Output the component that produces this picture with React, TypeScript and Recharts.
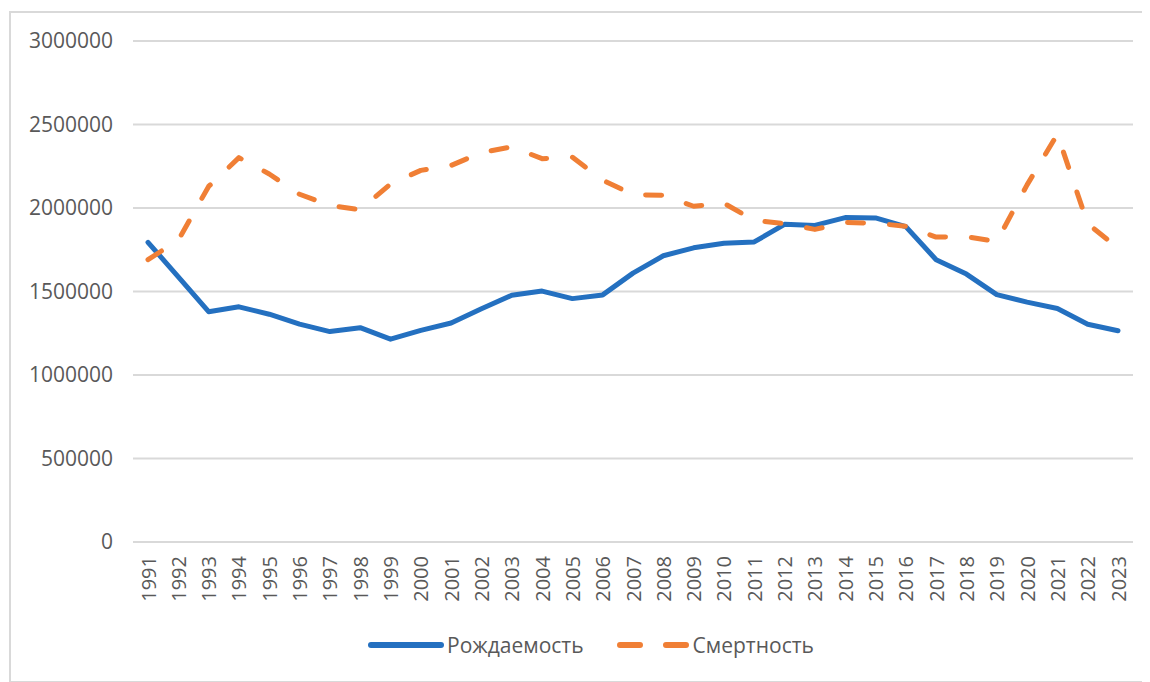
import React from "react";
import { LineChart, Line, XAxis, YAxis, CartesianGrid, Legend } from "recharts";

const years = [
  "1991", "1992", "1993", "1994", "1995", "1996", "1997", "1998", "1999", "2000",
  "2001", "2002", "2003", "2004", "2005", "2006", "2007", "2008", "2009", "2010",
  "2011", "2012", "2013", "2014", "2015", "2016", "2017", "2018", "2019", "2020",
  "2021", "2022", "2023",
];

const births = [
  1794626, 1587644, 1378983, 1408159, 1363806, 1304638, 1259943, 1283292, 1214689, 1266800,
  1311604, 1396967, 1477301, 1502477, 1457376, 1479637, 1610122, 1713947, 1761687, 1788948,
  1796629, 1902084, 1895822, 1942683, 1940579, 1888729, 1690307, 1604344, 1481074, 1436514,
  1398253, 1304087, 1264938,
];

const deaths = [
  1690657, 1807441, 2129339, 2301366, 2203811, 2082249, 2015779, 1988744, 2144316, 2225332,
  2254856, 2332272, 2365826, 2295402, 2303935, 2166703, 2080445, 2075954, 2010543, 2028516,
  1925720, 1906335, 1871809, 1913613, 1908541, 1891015, 1826125, 1828910, 1798307, 2138586,
  2441594, 1905800, 1760000,
];

const yTicks = [0, 500000, 1000000, 1500000, 2000000, 2500000, 3000000];

const seriesNames = { births: "Рождаемость", deaths: "Смертность" };

const data = years.map((y, i) => ({ year: y, births: births[i], deaths: deaths[i] }));

const FONT = "'Open Sans', 'Noto Sans', sans-serif";
const TEXT = "#595959";
const BLUE = "#2470C0";
const ORANGE = "#F07F35";
const GRID = "#d9d9d9";

const YearTick = (props: any) => {
  const { x, y, payload } = props;
  const ty = y + 14;
  return (
    <text
      x={x}
      y={ty}
      transform={`rotate(-90 ${x} ${ty})`}
      textAnchor="end"
      dominantBaseline="central"
      fill={TEXT}
      fontSize={20}
      fontFamily={FONT}
    >
      {payload.value}
    </text>
  );
};

const LegendContent = () => (
  <div
    style={{
      display: "flex",
      justifyContent: "center",
      alignItems: "center",
      height: 30,
      paddingLeft: 26,
      fontFamily: FONT,
      fontSize: 21,
      color: TEXT,
    }}
  >
    <svg width={76} height={10} style={{ marginRight: 3 }}>
      <line x1={3} y1={5} x2={73} y2={5} stroke={BLUE} strokeWidth={6} strokeLinecap="round" />
    </svg>
    <span style={{ marginRight: 33 }}>{seriesNames.births}</span>
    <svg width={72} height={10} style={{ marginRight: 4 }}>
      <line
        x1={3}
        y1={5}
        x2={69}
        y2={5}
        stroke={ORANGE}
        strokeWidth={6}
        strokeLinecap="round"
        strokeDasharray="20 26"
      />
    </svg>
    <span>{seriesNames.deaths}</span>
  </div>
);

export default function App() {
  return (
    <div
      style={{
        marginLeft: 1,
        marginTop: 3,
        width: 1134,
        height: 668,
        border: `2px solid ${GRID}`,
        position: "relative",
        background: "#fff",
      }}
    >
      <LineChart
        width={1134}
        height={668}
        data={data}
        margin={{ top: 28, right: 12, bottom: 39, left: 0 }}
      >
        <CartesianGrid vertical={false} stroke={GRID} strokeWidth={2} />
        <XAxis
          dataKey="year"
          interval={0}
          height={70}
          padding={{ left: 15, right: 15 }}
          axisLine={{ stroke: GRID, strokeWidth: 2 }}
          tickLine={false}
          tickSize={0}
          tickMargin={0}
          tick={<YearTick />}
        />
        <YAxis
          width={122}
          domain={[0, 3000000]}
          ticks={yTicks}
          axisLine={false}
          tickLine={false}
          tickSize={0}
          tickMargin={20}
          tick={{ fill: TEXT, fontSize: 21, fontFamily: FONT }}
        />
        <Legend
          verticalAlign="bottom"
          content={<LegendContent />}
          wrapperStyle={{ top: 617, left: 0, width: 1134, height: 30 }}
        />
        <Line
          type="linear"
          dataKey="births"
          name={seriesNames.births}
          stroke={BLUE}
          strokeWidth={5}
          strokeLinejoin="round"
          strokeLinecap="round"
          dot={false}
          isAnimationActive={false}
        />
        <Line
          type="linear"
          dataKey="deaths"
          name={seriesNames.deaths}
          stroke={ORANGE}
          strokeWidth={5}
          strokeLinejoin="round"
          strokeLinecap="round"
          strokeDasharray="16 26"
          dot={false}
          isAnimationActive={false}
        />
      </LineChart>
    </div>
  );
}
